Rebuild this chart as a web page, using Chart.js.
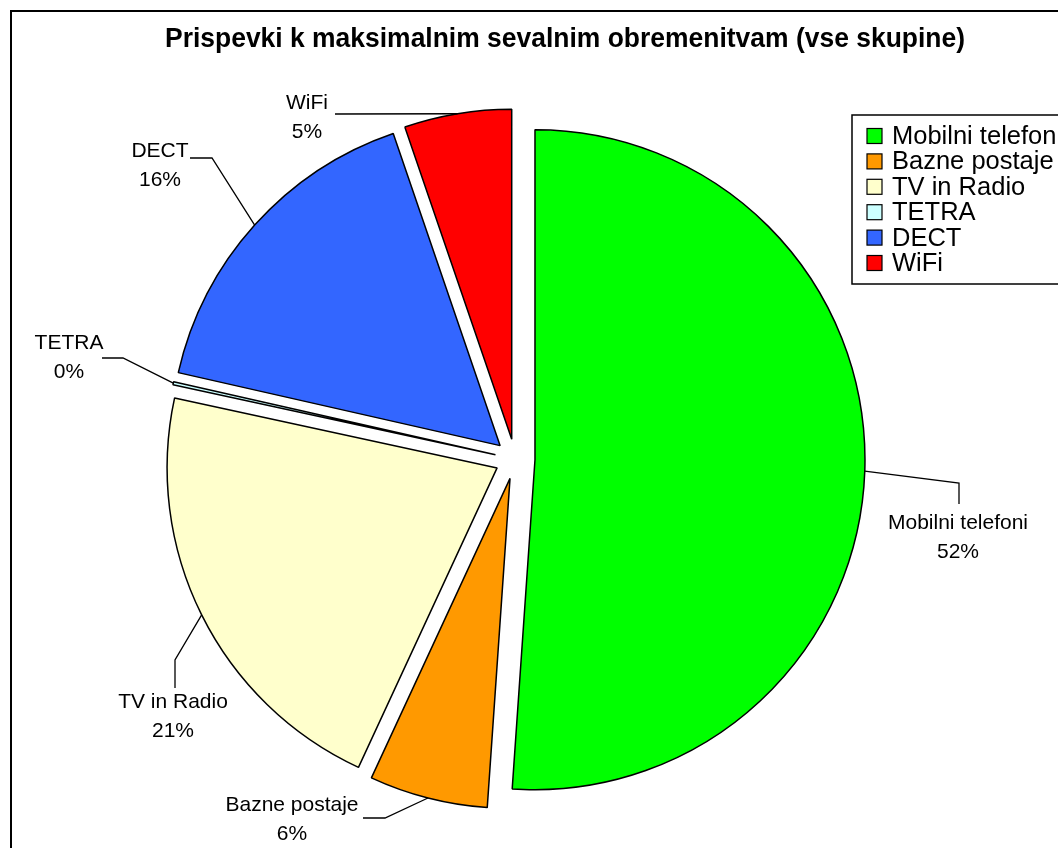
<!DOCTYPE html>
<html>
<head>
<meta charset="utf-8">
<title>Prispevki k maksimalnim sevalnim obremenitvam</title>
<script src="https://cdn.jsdelivr.net/npm/chart.js@4.4.1/dist/chart.umd.min.js"></script>
<style>
    html, body { margin: 0; padding: 0; background: #fff; }
    canvas { display: block; }
</style>
</head>
<body>
<canvas id="pieChart" width="1058" height="848"></canvas>
<script>
// Data
const categories = ['Mobilni telefoni', 'Bazne postaje', 'TV in Radio', 'TETRA', 'DECT', 'WiFi'];
const shares = [51.1, 5.8, 21.5, 0.15, 16.2, 5.25];
const percentLabels = ['52%', '6%', '21%', '0%', '16%', '5%'];
const sliceColors = ['#00FF00', '#FF9900', '#FFFFCC', '#CCFFFF', '#3366FF', '#FF0000'];

const chartTitle = 'Prispevki k maksimalnim sevalnim obremenitvam (vse skupine)';
const FONT = '"Liberation Sans", Arial, sans-serif';
const EXPLODE = 20;

// Label placement (first line centre, leader points from label towards the slice)
const labelLayout = [
    { x: 958, y: 529, leader: [[959, 504], [959, 483]] },
    { x: 292, y: 811, leader: [[363, 818], [385, 818]] },
    { x: 173, y: 708, leader: [[175, 688], [175, 660]] },
    { x: 69, y: 349, leader: [[102, 358], [123, 358]] },
    { x: 160, y: 157, leader: [[190, 158], [212, 158]] },
    { x: 307, y: 109, leader: [[335, 114]] }
];

// Plugins
const explodePlugin = {
    id: 'explode',
    afterDatasetUpdate(chart, args) {
        // push every slice out along its middle angle
        args.meta.data.forEach(arc => {
            const mid = (arc.startAngle + arc.endAngle) / 2;
            arc.x += Math.cos(mid) * EXPLODE;
            arc.y += Math.sin(mid) * EXPLODE;
        });
    }
};

const framePlugin = {
    id: 'frame',
    beforeDraw(chart) {
        const ctx = chart.ctx;
        ctx.save();
        ctx.fillStyle = '#fff';
        ctx.fillRect(0, 0, chart.width, chart.height);
        ctx.strokeStyle = '#000';
        ctx.lineWidth = 2;
        ctx.strokeRect(11, 11, 1200, 1000);

        // Title
        ctx.fillStyle = '#000';
        ctx.font = 'bold 27px ' + FONT;
        ctx.textAlign = 'center';
        ctx.textBaseline = 'alphabetic';
        const w = ctx.measureText(chartTitle).width;
        ctx.translate(565, 47);
        ctx.scale(800 / w, 1);
        ctx.fillText(chartTitle, 0, 0);
        ctx.restore();
    }
};

const labelsPlugin = {
    id: 'sliceLabels',
    afterDraw(chart) {
        const ctx = chart.ctx;
        const arcs = chart.getDatasetMeta(0).data;
        ctx.save();
        ctx.strokeStyle = '#000';
        ctx.lineWidth = 1.3;
        ctx.fillStyle = '#000';
        ctx.font = '21px ' + FONT;
        ctx.textAlign = 'center';
        ctx.textBaseline = 'alphabetic';

        arcs.forEach((arc, i) => {
            const mid = (arc.startAngle + arc.endAngle) / 2;
            const ax = arc.x + Math.cos(mid) * arc.outerRadius;
            const ay = arc.y + Math.sin(mid) * arc.outerRadius;
            const layout = labelLayout[i];

            ctx.beginPath();
            ctx.moveTo(layout.leader[0][0], layout.leader[0][1]);
            layout.leader.slice(1).forEach(p => ctx.lineTo(p[0], p[1]));
            ctx.lineTo(ax, ay);
            ctx.stroke();

            ctx.fillText(categories[i], layout.x, layout.y);
            ctx.fillText(percentLabels[i], layout.x, layout.y + 29);
        });

        // Legend
        ctx.lineWidth = 1.5;
        ctx.strokeRect(852, 115, 260, 169);
        ctx.font = '25.5px ' + FONT;
        ctx.textAlign = 'left';
        ctx.textBaseline = 'middle';
        categories.forEach((name, i) => {
            const cy = 136 + i * 25.4;
            ctx.fillStyle = sliceColors[i];
            ctx.fillRect(867, cy - 7.5, 15, 15);
            ctx.lineWidth = 1.2;
            ctx.strokeRect(867, cy - 7.5, 15, 15);
            ctx.fillStyle = '#000';
            ctx.fillText(name, 892, cy + 1);
        });
        ctx.restore();
    }
};

const ctx = document.getElementById('pieChart').getContext('2d');

const pieChart = new Chart(ctx, {
    type: 'pie',
    data: {
        labels: categories,
        datasets: [{
            data: shares,
            backgroundColor: sliceColors,
            borderColor: '#000',
            borderWidth: 1.5
        }]
    },
    options: {
        responsive: false,
        animation: false,
        events: [],
        layout: {
            padding: { left: 160, right: 188, top: 128.25, bottom: 58.25 }
        },
        plugins: {
            legend: { display: false },
            title: { display: false },
            tooltip: { enabled: false }
        }
    },
    plugins: [framePlugin, explodePlugin, labelsPlugin]
});
</script>
</body>
</html>
